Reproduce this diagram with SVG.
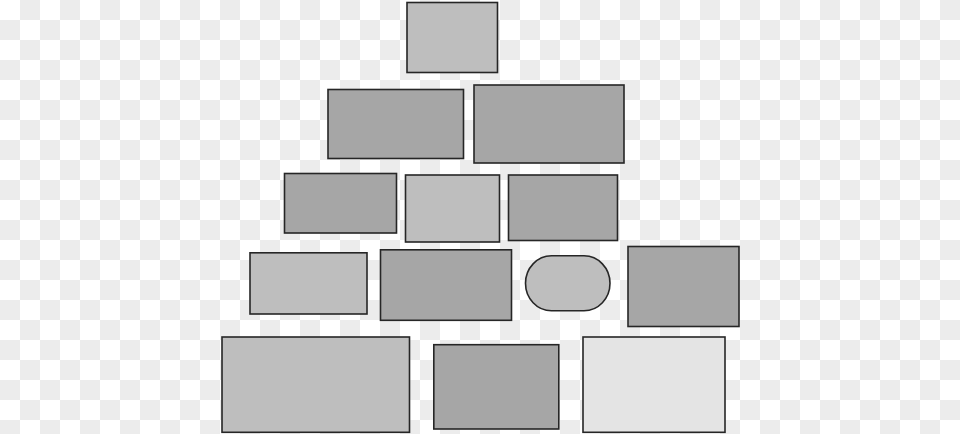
<svg xmlns="http://www.w3.org/2000/svg" width="960" height="434" viewBox="0 0 960 434">
<defs>
<pattern id="checker" x="0" y="0" width="40" height="40" patternUnits="userSpaceOnUse">
<rect x="0" y="0" width="40" height="40" fill="#ffffff"/>
<rect x="20" y="0" width="20" height="20" fill="#ececec"/>
<rect x="0" y="20" width="20" height="20" fill="#ececec"/>
</pattern>
</defs>
<style>
.n{stroke:#262626;stroke-width:1.6}
.mid{fill:#bebebe}
.dark{fill:#a6a6a6}
.light{fill:#e4e4e4}
</style>
<rect x="0" y="0" width="960" height="434" fill="url(#checker)"/>
<g id="connectors"></g>
<g id="n1"><rect class="n mid" x="407" y="2.5" width="90.5" height="70"/></g>
<g id="n2"><rect class="n dark" x="328" y="89.5" width="135.5" height="69"/></g>
<g id="n3"><rect class="n dark" x="474" y="85" width="150" height="78"/></g>
<g id="n4"><rect class="n dark" x="284.5" y="173.5" width="112" height="59.5"/></g>
<g id="n5"><rect class="n mid" x="405.5" y="175" width="94" height="67"/></g>
<g id="n6"><rect class="n dark" x="508.5" y="175" width="109" height="65.5"/></g>
<g id="n7"><rect class="n mid" x="250" y="252.8" width="117" height="61.2"/></g>
<g id="n8"><rect class="n dark" x="380.5" y="249.8" width="131" height="70.5"/></g>
<g id="n9"><rect class="n mid" x="525.5" y="255.8" width="84.5" height="55" rx="26" ry="27.5"/></g>
<g id="n10"><rect class="n dark" x="628" y="246.5" width="111" height="80"/></g>
<g id="n11"><rect class="n mid" x="222" y="337" width="187.5" height="95.3"/></g>
<g id="n12"><rect class="n dark" x="433.8" y="344.7" width="125" height="84.3"/></g>
<g id="n13"><rect class="n light" x="583" y="337" width="142" height="95.3"/></g>
</svg>
